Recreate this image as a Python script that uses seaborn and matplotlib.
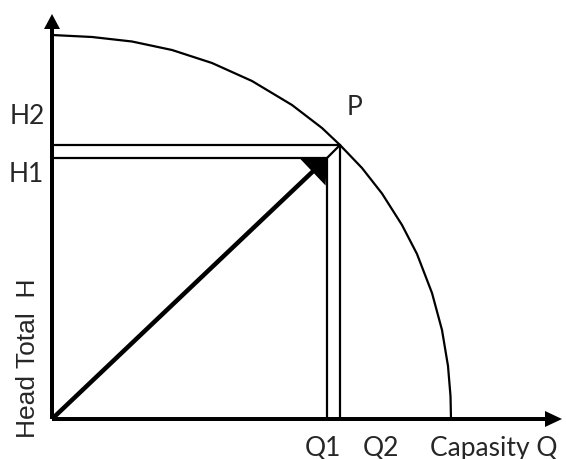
import matplotlib
matplotlib.use("Agg")
import matplotlib.pyplot as plt
import seaborn as sns
import pandas as pd

# pump curve (capacity vs total head)
capacity = [0, 40, 80, 120, 160, 200, 240, 270, 288, 310, 330, 350, 365, 380, 390, 396, 398.5, 399]
head = [384, 382, 377.5, 369, 356, 338, 314, 291, 274, 251, 225.5, 194, 165, 126, 89, 53, 23, 0]

# operating points
Q1, H1 = 275, 261
Q2, H2 = 288, 274
Q_axis_end, H_axis_end = 510, 405

point_labels = ["H2", "H1", "P", "Q1", "Q2", "Capasity Q"]
label_pos = [(-42, 296), (-43, 238), (295, 305), (253, -36), (311, -36), (378, -36)]

sns.set_style("white")
plt.rcParams["font.family"] = ["Lato", "DejaVu Sans"]

fig = plt.figure(figsize=(5.66, 4.6), dpi=100)
ax = fig.add_axes([0, 0, 1, 1])

curve = pd.DataFrame({"Q": capacity, "H": head})
sns.lineplot(data=curve, x="Q", y="H", color="black", linewidth=1.6, ax=ax)

# guide lines to H1/H2 and Q1/Q2
ax.plot([0, Q2], [H2, H2], color="black", lw=1.6)
ax.plot([0, Q1], [H1, H1], color="black", lw=1.6)
ax.plot([Q2, Q2], [0, H2], color="black", lw=1.6)
ax.plot([Q1, Q1], [0, H1], color="black", lw=1.6)
ax.plot([Q1, Q2], [H1, H2], color="black", lw=1.6)

# axes with arrow heads
ax.arrow(0, 0, 0, H_axis_end, width=4, head_width=16, head_length=15,
         length_includes_head=True, color="black", lw=0)
ax.arrow(0, 0, Q_axis_end, 0, width=4, head_width=16, head_length=17,
         length_includes_head=True, color="black", lw=0)

# system line from origin
ax.arrow(0, 0, Q1, H1, width=4.5, head_width=38, head_length=20,
         length_includes_head=True, color="black", lw=0)

for txt, (x, y) in zip(point_labels, label_pos):
    ax.text(x, y, txt, fontsize=19, ha="left", va="baseline")

ax.text(-17, 62, "Head Total  H", fontsize=19, rotation=90,
        rotation_mode="anchor", ha="center", va="baseline",
        family=["Liberation Sans", "DejaVu Sans"])

ax.set_xlim(-52, 514)
ax.set_ylim(-40, 420)
ax.axis("off")

plt.savefig("out.png", dpi=100)
plt.close()
